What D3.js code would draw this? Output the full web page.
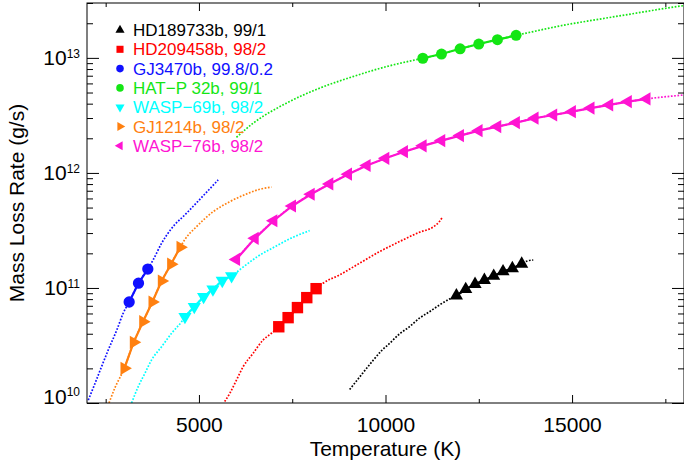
<!DOCTYPE html>
<html>
<head>
<meta charset="utf-8">
<script src="https://cdn.jsdelivr.net/npm/d3@7"></script>
<style>
body { margin: 0; background: #fff; }
svg text { font-family: "Liberation Sans", Arial, Helvetica, sans-serif; }
</style>
</head>
<body>
<script>
// legend labels
var names = ["HD189733b, 99/1", "HD209458b, 98/2", "GJ3470b, 99.8/0.2", "HAT\u2212P 32b, 99/1",
             "WASP\u221269b, 98/2", "GJ1214b, 98/2", "WASP\u221276b, 98/2"];

// [temperature K, mass loss rate g/s] - dotted model curves (marker points are added on top)
var hd189Model = [[9040,1.31e10],[9305,1.68e10],[9655,2.32e10],[9895,2.85e10],[10110,3.30e10],
                  [10375,3.98e10],[10645,4.61e10],[10910,5.46e10],[11180,6.22e10],[11445,7.11e10],
                  [11715,8.02e10],[13810,1.72e11],[13960,1.75e11]];
var hd189Pts = [[11900,8.57e10],[12150,9.75e10],[12400,1.08e11],[12650,1.17e11],[12900,1.27e11],
                [13150,1.39e11],[13400,1.48e11],[13650,1.62e11]];

var hd209Model = [[5690,1.03e10],[5825,1.21e10],[6005,1.58e10],[6185,2.07e10],[6450,2.70e10],
                  [6720,3.53e10],[6945,4.04e10],[8325,1.10e11],[8770,1.30e11],[9305,1.64e11],
                  [9840,2.07e11],[10375,2.53e11],[10910,3.05e11],[11265,3.37e11],[11445,3.78e11],[11535,4.17e11]];
var hd209Pts = [[7140,4.60e10],[7390,5.52e10],[7640,6.75e10],[7890,8.24e10],[8140,9.86e10]];

var gj3470Model = [[2035,1.06e10],[2215,1.48e10],[2390,2.07e10],[2570,2.89e10],[2800,4.32e10],
                   [2970,6.03e10],[3775,1.76e11],[4000,2.45e11],[4250,3.24e11],[4670,4.47e11],
                   [5110,6.31e11],[5515,8.69e11]];
var gj3470Pts = [[3130,7.55e10],[3380,1.10e11],[3630,1.46e11]];

var hatp32Model = [[6005,2.04e12],[6450,2.70e12],[7345,4.04e12],[8235,5.46e12],[9125,6.87e12],
                   [10020,8.39e12],[13765,1.64e13],[14835,1.94e13],[15730,2.17e13],[16620,2.42e13],
                   [17515,2.70e13],[18000,2.85e13]];
var hatp32Pts = [[11000,9.93e12],[11500,1.08e13],[12000,1.20e13],[12500,1.32e13],[13000,1.44e13],[13500,1.57e13]];

var wasp69Model = [[3196,1.00e10],[3373,1.39e10],[3552,1.81e10],[3731,2.37e10],[4000,3.09e10],
                   [4267,4.04e10],[4534,5.09e10],[6140,1.48e11],[6576,1.88e11],[7076,2.32e11],
                   [7513,2.75e11],[7967,3.15e11]];
var wasp69Pts = [[4625,5.62e10],[4875,6.87e10],[5125,8.39e10],[5375,9.75e10],[5625,1.16e11],[5875,1.27e11]];

var gj1214Model = [[2590,1.00e10],[2750,1.36e10],[4620,2.63e11],[4935,3.41e11],[5380,4.60e11],
                   [5825,5.62e11],[6275,6.56e11],[6630,7.21e11],[6945,7.52e11]];
var gj1214Pts = [[3000,2.00e10],[3250,3.37e10],[3500,5.09e10],[3750,7.55e10],[4000,1.15e11],
                 [4250,1.61e11],[4500,2.26e11]];

var wasp76Model = [[18000,4.76e12]];
var wasp76Pts = [[6000,1.77e11],[6500,2.70e11],[7000,3.84e11],[7500,5.16e11],[8000,6.53e11],
                 [8500,8.02e11],[9000,9.75e11],[9500,1.16e12],[10000,1.34e12],[10500,1.53e12],
                 [11000,1.72e12],[11500,1.91e12],[12000,2.11e12],[12500,2.33e12],[13000,2.53e12],
                 [13500,2.74e12],[14000,2.99e12],[14500,3.19e12],[15000,3.41e12],[15500,3.66e12],
                 [16000,3.90e12],[16500,4.17e12],[17000,4.40e12]];

// tick values
var xMajor = [5000, 10000, 15000];
var xMinor = [2500, 7500, 12500, 17500];
var yMajor = [1e10, 1e11, 1e12, 1e13];

var w = 684, h = 463;
var padL = 87, padR = 684, padT = 3, padB = 403;

var x = d3.scaleLinear().domain([2000, 18000]).range([padL, padR]);
var y = d3.scaleLog().domain([1e10, 3e13]).range([padB, padT]);

var yMinor = [];
[1e10, 1e11, 1e12, 1e13].forEach(function(d) {
    for (var m = 2; m <= 9; m++) if (d * m <= 3e13) yMinor.push(d * m);
});

var svg = d3.select('body').append('svg')
    .attr('width', w)
    .attr('height', h);

svg.append('clipPath').attr('id', 'clip')
    .append('rect')
    .attr('x', padL).attr('y', padT)
    .attr('width', padR - padL).attr('height', padB - padT);

var series = [
    {color: '#000000', model: hd189Model, pts: hd189Pts, sym: d3.symbolTriangle, rot: 0, size: 75},
    {color: '#ff0000', model: hd209Model, pts: hd209Pts, sym: d3.symbolSquare, rot: 0, size: 130},
    {color: '#1010ff', model: gj3470Model, pts: gj3470Pts, sym: d3.symbolCircle, rot: 0, size: 100},
    {color: '#14e614', model: hatp32Model, pts: hatp32Pts, sym: d3.symbolCircle, rot: 0, size: 95},
    {color: '#00ffff', model: wasp69Model, pts: wasp69Pts, sym: d3.symbolTriangle, rot: 180, size: 75},
    {color: '#ff8010', model: gj1214Model, pts: gj1214Pts, sym: d3.symbolTriangle, rot: 90, size: 75},
    {color: '#ff14d2', model: wasp76Model, pts: wasp76Pts, sym: d3.symbolTriangle, rot: -90, size: 75}
];

var line = d3.line()
    .x(function(d) { return x(d[0]); })
    .y(function(d) { return y(d[1]); });

var smooth = d3.line()
    .curve(d3.curveMonotoneX)
    .x(function(d) { return x(d[0]); })
    .y(function(d) { return y(d[1]); });

var plot = svg.append('g').attr('clip-path', 'url(#clip)');

// dotted model curves
series.forEach(function(s) {
    var all = s.model.concat(s.pts).sort(function(a, b) { return a[0] - b[0]; });
    plot.append('path')
        .datum(all)
        .attr('d', smooth)
        .attr('fill', 'none')
        .attr('stroke', s.color)
        .attr('stroke-width', 1.7)
        .attr('stroke-dasharray', '1.7,1.6');
});

// solid segments + markers
series.forEach(function(s) {
    plot.append('path')
        .datum(s.pts)
        .attr('d', line)
        .attr('fill', 'none')
        .attr('stroke', s.color)
        .attr('stroke-width', 2.2);
    plot.selectAll(null)
        .data(s.pts)
        .enter()
        .append('path')
        .attr('d', d3.symbol().type(s.sym).size(s.size))
        .attr('transform', function(d) {
            return 'translate(' + x(d[0]) + ',' + y(d[1]) + ') rotate(' + s.rot + ')';
        })
        .attr('fill', s.color);
});

// axes: ticks point inward on all four sides
function tickAxis(axis, vals, size, fmt) {
    return axis.tickValues(vals).tickSizeInner(-size).tickSizeOuter(0).tickFormat(fmt || '');
}

svg.append('g')
    .attr('transform', 'translate(0,' + padB + ')')
    .call(tickAxis(d3.axisBottom(x), xMajor, 8, d3.format('d')).tickPadding(14));
svg.append('g')
    .attr('transform', 'translate(0,' + padB + ')')
    .call(tickAxis(d3.axisBottom(x), xMinor, 4));
svg.append('g')
    .attr('transform', 'translate(0,' + padT + ')')
    .call(tickAxis(d3.axisTop(x), xMajor, 8));
svg.append('g')
    .attr('transform', 'translate(0,' + padT + ')')
    .call(tickAxis(d3.axisTop(x), xMinor, 4));

var yl = svg.append('g')
    .attr('transform', 'translate(' + padL + ',0)')
    .call(tickAxis(d3.axisLeft(y), yMajor, 12));
svg.append('g')
    .attr('transform', 'translate(' + padL + ',0)')
    .call(tickAxis(d3.axisLeft(y), yMinor, 6));
svg.append('g')
    .attr('transform', 'translate(' + padR + ',0)')
    .call(tickAxis(d3.axisRight(y), yMajor, 12));
svg.append('g')
    .attr('transform', 'translate(' + padR + ',0)')
    .call(tickAxis(d3.axisRight(y), yMinor, 6));

svg.selectAll('.domain').remove();
svg.selectAll('.tick line').attr('stroke', '#000');
svg.selectAll('.tick text')
    .style('font-size', '21px')
    .attr('fill', '#000');

// y tick labels as 10^n
yl.selectAll('.tick').each(function(d, i) {
    var g = d3.select(this);
    g.select('text').remove();
    var t = g.append('text')
        .attr('x', -7)
        .attr('y', i === 0 ? 0 : 7)
        .attr('text-anchor', 'end')
        .attr('fill', '#000');
    t.append('tspan').style('font-size', '21px').text('10');
    t.append('tspan').style('font-size', '12px').attr('dy', -7.5)
        .text(Math.round(Math.log10(d)));
});

svg.append('rect')
    .attr('x', padL).attr('y', padT)
    .attr('width', padR - padL).attr('height', padB - padT)
    .attr('fill', 'none')
    .attr('stroke', '#000')
    .attr('stroke-width', 1);

// axis titles
svg.append('text')
    .attr('x', (padL + padR) / 2)
    .attr('y', 456)
    .attr('text-anchor', 'middle')
    .style('font-size', '21px')
    .text('Temperature (K)');

svg.append('text')
    .attr('transform', 'translate(24,' + (padT + padB) / 2 + ') rotate(-90)')
    .attr('text-anchor', 'middle')
    .style('font-size', '21px')
    .text('Mass Loss Rate (g/s)');

// legend
var legend = svg.append('g');
var legSizes = [36, 50, 45, 45, 36, 36, 36];
series.forEach(function(s, i) {
    var cy = 30 + i * 19.3;
    legend.append('path')
        .attr('d', d3.symbol().type(s.sym).size(legSizes[i]))
        .attr('transform', 'translate(120,' + cy + ') rotate(' + s.rot + ')')
        .attr('fill', s.color);
    legend.append('text')
        .attr('x', 133)
        .attr('y', cy + 6)
        .style('font-size', '17px')
        .attr('fill', s.color)
        .text(names[i]);
});
</script>
</body>
</html>
